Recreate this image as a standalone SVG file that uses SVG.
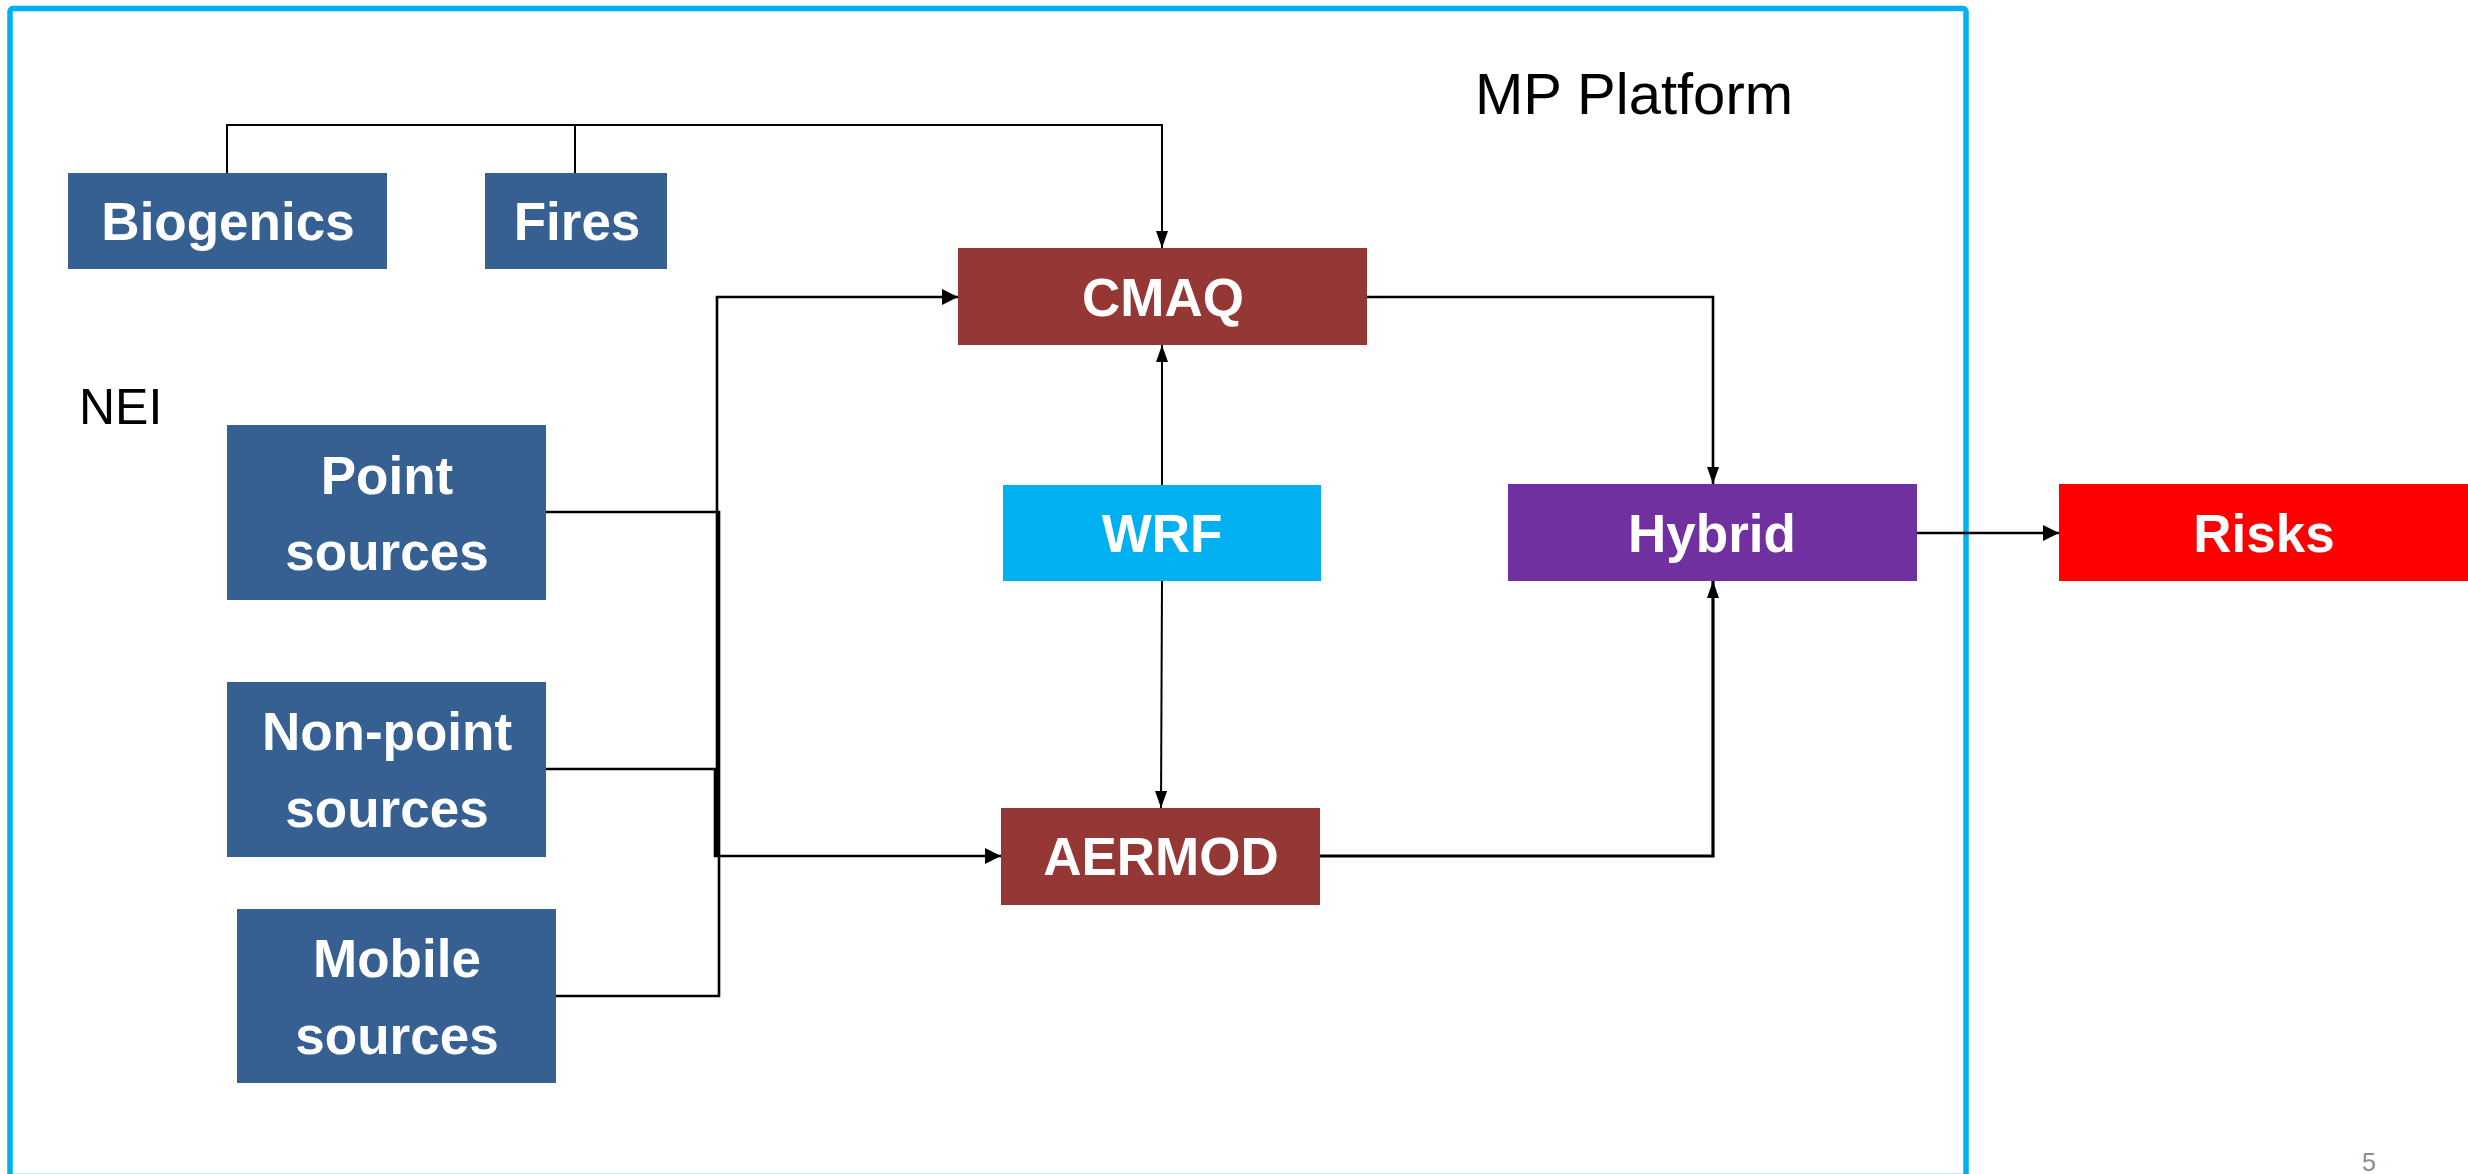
<svg xmlns="http://www.w3.org/2000/svg" width="2468" height="1174" viewBox="0 0 2468 1174">
  <style>
    .lbl { font-family: "Liberation Sans", Arial, sans-serif; font-weight: bold; font-size: 53px; fill: #ffffff; text-anchor: middle; }
    .plain { font-family: "Liberation Sans", Arial, sans-serif; fill: #000000; }
    .src { fill: #376092; }
    .model { fill: #953735; }
    .conn { fill: none; stroke: #000000; stroke-linejoin: miter; }
    .thin { stroke-width: 2; }
    .mid { stroke-width: 2.6; }
    .thick { stroke-width: 3.2; }
  </style>
  <defs>
    <marker id="arrowBig" viewBox="0 0 16 16" refX="16" refY="8" markerWidth="16" markerHeight="16" orient="auto" markerUnits="userSpaceOnUse">
      <path d="M0,0 L16,8 L0,16 z" fill="#000000"/>
    </marker>
    <marker id="arrowThin" viewBox="0 0 17 12" refX="17" refY="6" markerWidth="17" markerHeight="12" orient="auto" markerUnits="userSpaceOnUse">
      <path d="M0,0 L17,6 L0,12 z" fill="#000000"/>
    </marker>
  </defs>
  <rect x="0" y="0" width="2468" height="1174" fill="#ffffff"/>

  <g id="platform">
    <rect x="10" y="8.5" width="1956" height="1168" rx="3" fill="none" stroke="#00B0F0" stroke-width="5.5"/>
    <text class="plain" x="1475" y="114" font-size="58">MP Platform</text>
  </g>
  <g id="nei-label">
    <text class="plain" x="79" y="424" font-size="50">NEI</text>
  </g>

  <g id="biogenics">
    <rect class="src" x="68" y="173" width="319" height="96"/>
    <text class="lbl" x="228" y="240">Biogenics</text>
  </g>
  <g id="fires">
    <rect class="src" x="485" y="173" width="182" height="96"/>
    <text class="lbl" x="577" y="240">Fires</text>
  </g>
  <g id="point-sources">
    <rect class="src" x="227" y="425" width="319" height="175"/>
    <text class="lbl" x="387" y="494">Point</text>
    <text class="lbl" x="387" y="570">sources</text>
  </g>
  <g id="nonpoint-sources">
    <rect class="src" x="227" y="682" width="319" height="175"/>
    <text class="lbl" x="387" y="750">Non-point</text>
    <text class="lbl" x="387" y="827">sources</text>
  </g>
  <g id="mobile-sources">
    <rect class="src" x="237" y="909" width="319" height="174"/>
    <text class="lbl" x="397" y="977">Mobile</text>
    <text class="lbl" x="397" y="1054">sources</text>
  </g>
  <g id="cmaq">
    <rect class="model" x="958" y="248" width="409" height="97"/>
    <text class="lbl" x="1163" y="316">CMAQ</text>
  </g>
  <g id="wrf">
    <rect x="1003" y="485" width="318" height="96" fill="#00B0F0"/>
    <text class="lbl" x="1162" y="552">WRF</text>
  </g>
  <g id="aermod">
    <rect class="model" x="1001" y="808" width="319" height="97"/>
    <text class="lbl" x="1161" y="875">AERMOD</text>
  </g>
  <g id="hybrid">
    <rect x="1508" y="484" width="409" height="97" fill="#7030A0"/>
    <text class="lbl" x="1712" y="552">Hybrid</text>
  </g>
  <g id="risks">
    <rect x="2059" y="484" width="412" height="97" fill="#FF0000"/>
    <text class="lbl" x="2264" y="552">Risks</text>
  </g>

  <g id="connectors">
    <path class="conn thin" d="M227,173 V125 H1162 V248" marker-end="url(#arrowThin)"/>
    <path class="conn thin" d="M575,173 V125"/>
    <path class="conn mid" d="M546,512 H719 V996 H556"/>
    <path class="conn mid" d="M717,856 V297 H958" marker-end="url(#arrowBig)"/>
    <path class="conn mid" d="M546,769 H715 V856 H1001" marker-end="url(#arrowBig)"/>
    <path class="conn thin" d="M1162,485 V345" marker-end="url(#arrowThin)"/>
    <path class="conn thin" d="M1162,581 L1161,808" marker-end="url(#arrowThin)"/>
    <path class="conn mid" d="M1367,297 H1713 V484" marker-end="url(#arrowThin)"/>
    <path class="conn thick" d="M1320,856 H1713 V581" marker-end="url(#arrowThin)"/>
    <path class="conn mid" d="M1917,533 H2059" marker-end="url(#arrowBig)"/>
  </g>

  <g id="page-number">
    <text x="2362" y="1171" font-family="'Liberation Sans', Arial, sans-serif" font-size="25" fill="#8c8c8c">5</text>
  </g>
</svg>
